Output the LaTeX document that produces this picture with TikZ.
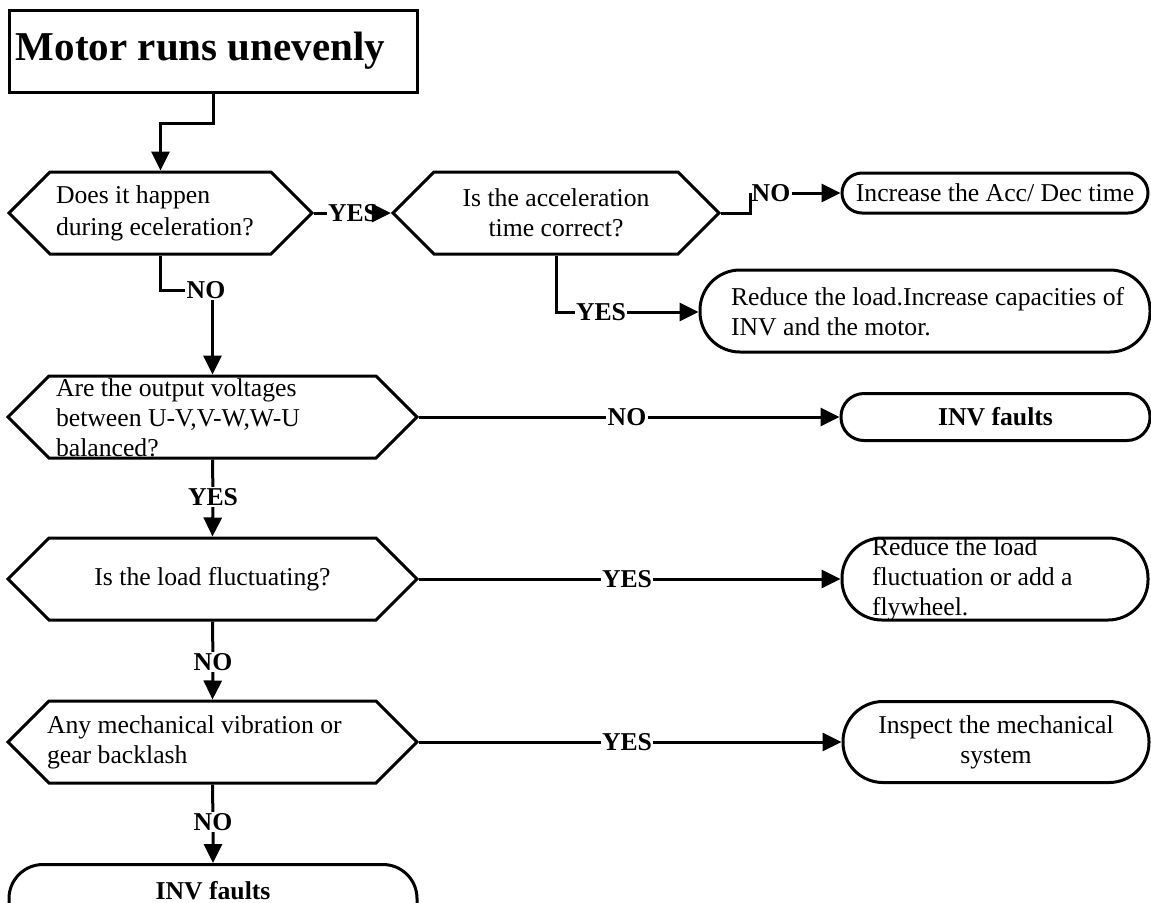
\documentclass[tikz,border=0pt]{standalone}
\usepackage{fontspec}
\setmainfont{Liberation Serif}
\usepackage{tikz}
\usetikzlibrary{arrows.meta,shapes.symbols,positioning,calc}

% text that may run out of its box (left offset, width, lines)
\newcommand{\spill}[3]{\makebox[0pt][l]{\hspace*{#1}\smash{\raisebox{-3.2pt}{\parbox[c]{#2}{\raggedright #3}}}}}
\newcommand{\fs}{\fontsize{12.85}{15}\selectfont}

\tikzset{
  hexbox/.style={draw, line width=1.5pt, shape=signal, signal to=west and east,
                 signal pointer angle=90, minimum height=41pt, inner sep=2pt},
  endbox/.style={draw, line width=1.5pt, rounded corners=20pt, minimum height=41pt,
                 inner sep=2pt, align=center},
  lbl/.style={font=\fs\bfseries, inner sep=0.5pt},
  ln/.style={line width=1.5pt},
  arr/.style={line width=1.5pt, -{Triangle[length=9.5pt,width=9pt]}}
}

\begin{document}
\begin{tikzpicture}[x=0.5pt, y=-0.5pt, font=\fs]
  \useasboundingbox (0,0) rectangle (1151,902);
  \clip (0,0) rectangle (1151,902);

  \node[draw, line width=1.5pt, minimum width=204pt, minimum height=41pt, text width=197pt,
        inner sep=3.5pt, align=flush left, font=\fontsize{20.5}{24}\selectfont\bfseries]
        (title) at (213,51) {Motor runs unevenly};

  % questions
  \node[hexbox, minimum width=151.5pt, text width=104.5pt, align=flush left,
        font=\fontsize{12.85}{16}\selectfont] (hex1) at (160.5,213)
        {Does it happen\\during eceleration?};
  \node[hexbox, minimum width=163pt, align=center] (hex2) at (556,213)
        {Is the acceleration\\time correct?};
  \node[hexbox, minimum width=204.5pt] (hex3) at (212.5,417)
        {\spill{-78.25pt}{170pt}{Are the output voltages\\between U-V,V-W,W-U\\balanced?}};
  \node[hexbox, minimum width=204.5pt] (hex4) at (212.5,579) {Is the load fluctuating?};
  \node[hexbox, minimum width=204.5pt] (hex5) at (212.5,742)
        {\spill{-82.75pt}{170pt}{Any mechanical vibration or\\gear backlash}};

  % results
  \node[endbox, minimum width=153pt, minimum height=20pt, rounded corners=10pt]
        (incr) at (995,193) {Increase the Acc/ Dec time};
  \node[endbox, minimum width=225pt] (reduce1) at (925,311)
        {\spill{-97pt}{230pt}{Reduce the load.Increase capacities of\\INV and the motor.}};
  \node[endbox, minimum width=154.5pt, minimum height=23.5pt, rounded corners=11.5pt,
        font=\fs\bfseries] (inv1) at (995.5,417) {INV faults};
  \node[endbox, minimum width=153pt] (reduce2) at (995,579)
        {\spill{-61.5pt}{130pt}{Reduce the load\\fluctuation or add a\\flywheel.}};
  \node[endbox, minimum width=153pt, minimum height=40.5pt] (inspect) at (996,742)
        {Inspect the mechanical\\system};
  \node[endbox, anchor=north, minimum width=204pt, rounded corners=17pt, inner ysep=0pt,
        text height=14.5pt, text depth=21pt, font=\fs\bfseries]
        (inv2) at (213,863) {INV faults};

  % labels
  \node[lbl] (yes1) at (353,213) {YES};
  \node[lbl] (no1) at (771,193) {NO};
  \node[lbl] (yes2) at (601,312) {YES};
  \node[lbl] (no2) at (206,290) {NO};
  \node[lbl] (no3) at (627,417) {NO};
  \node[lbl] (yes3) at (213,497) {YES};
  \node[lbl] (yes4) at (627,579) {YES};
  \node[lbl] (no4) at (213,662) {NO};
  \node[lbl] (yes5) at (627,742) {YES};
  \node[lbl] (no5) at (213,822) {NO};

  \draw[arr] (title.south) -- ++(0,30) -| (hex1.north);
  \draw[arr] (hex1.east) -- (yes1) -- (hex2.west);
  \draw[ln] (hex2.east) -| (no1.west);
  \draw[arr] (no1) -- (incr);
  \draw[ln] (hex2.south) |- (yes2.west);
  \draw[arr] (yes2.east) -- (yes2.east -| reduce1.west);
  \draw[ln] (hex1.south) |- (no2.west);
  \draw[arr] (no2.south -| hex3.north) -- (hex3.north);
  \draw[arr] (hex3.east) -- (no3) -- (inv1);
  \draw[arr] (hex3.south) -- (yes3) -- (hex4.north);
  \draw[arr] (hex4.east) -- (yes4) -- (reduce2);
  \draw[arr] (hex4.south) -- (no4) -- (hex5.north);
  \draw[arr] (hex5.east) -- (yes5) -- (inspect);
  \draw[arr] (hex5.south) -- (no5) -- (inv2);
\end{tikzpicture}
\end{document}
